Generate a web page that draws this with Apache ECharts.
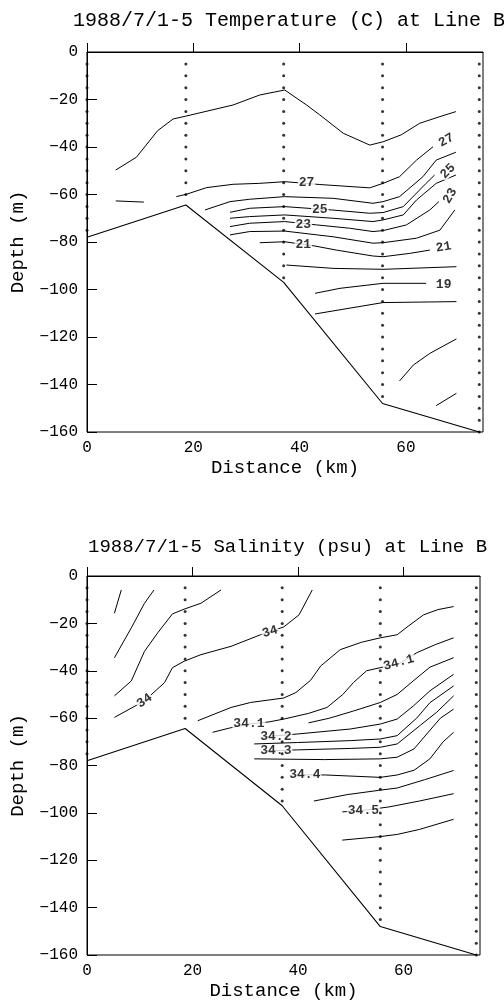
<!DOCTYPE html>
<html><head><meta charset="utf-8">
<script src="https://cdn.jsdelivr.net/npm/echarts@6/dist/echarts.min.js"></script>
<style>html,body{margin:0;padding:0;background:#fff}#c{width:504px;height:1001px}</style>
</head><body><div id="c"></div>
<script>
// ---------- shared section geometry ----------
const stationKm = [0, 18.6, 37.0, 55.6, 73.8];
const stationLastDepth = [75, 60, 95, 145, 160];
const sampleDepths = [5,10,15,20,25,30,35,40,45,50,55,60,65,70,75,80,85,90,95,100,105,110,115,120,125,130,135,140,145,150,155,160];
const bottomTopo = [[0,-78],[18.6,-64.4],[37.0,-97],[55.6,-148],[73.8,-160]];
const xTickLabels = [0, 20, 40, 60];
const yTickLabels = [0, -20, -40, -60, -80, -100, -120, -140, -160];

// ---------- temperature contours (km, m) ----------
const tTop = [[5.4,-49.7],[9.3,-44.3],[13.3,-33.1],[16.2,-28.2],[18.6,-27],[27.5,-22.3],[32.5,-18.1],[37.2,-16],[41.3,-22.3],[43.8,-26.5],[48.2,-34.2],[53.2,-39.2],[55.7,-37.8],[59.1,-34.9],[62.6,-30],[66.4,-27.2],[69.4,-25.1]];
const t27a = [[5.4,-62.7],[10.7,-63.2]];
const t27b = [[16.8,-60.9],[18.7,-59.9],[22.5,-57.1],[27.5,-55.7],[32.5,-55.3],[37.2,-54.6],[43.8,-55.8],[53.2,-57.2],[55.7,-55.3],[58.8,-52.5],[62,-45.5],[65.1,-39.9]];
const t26 = [[22.2,-66.5],[26.9,-63],[30.6,-62],[37.2,-60.9],[46.3,-61.6],[53.8,-63.7],[55.7,-63],[58.8,-60.9],[63.2,-52.5],[65.7,-45.5],[69.4,-42.2]];
const t25 = [[26.9,-67.5],[30.6,-65.8],[37.2,-65.1],[46,-66.5],[53.2,-67.9],[55.7,-67.6],[59.5,-65.1],[63.8,-55.3],[65.4,-51.8]];
const t24 = [[26.9,-70],[30.6,-69.3],[37.2,-68.6],[46.3,-70],[53.8,-71.4],[55.7,-70.7],[59.5,-68.6],[62,-62.3],[65.7,-55.3],[69.4,-51.8]];
const t23 = [[26.9,-73.5],[30.6,-72.1],[37.2,-71.4],[43.2,-72.8],[49.4,-74.2],[53.8,-75.6],[55.7,-75.2],[60.1,-72.8],[64.5,-66.5],[66.2,-63]];
const t22 = [[26.9,-77],[30.6,-75.6],[37.2,-75.4],[46.3,-77.8],[53.8,-80.5],[55.7,-80.3],[62,-78.4],[66.4,-75],[69.2,-66.5]];
const t21 = [[32.5,-80.3],[37.2,-79.9],[42.9,-81.7],[46.9,-83.4],[53.8,-85.9],[55.7,-86.2],[60.7,-84.8],[64.5,-83.4]];
const t20 = [[37.5,-89.7],[46.3,-91.1],[55.7,-91.5],[69.5,-90.4]];
const t19 = [[42.9,-101.6],[47.6,-99.5],[55.7,-97.4],[63.8,-97.4]];
const t18 = [[42.9,-110.3],[55.7,-105.5],[69.5,-105.1]];
const tDeepA = [[58.8,-138.5],[61.4,-131.8],[64.5,-126.9],[69.5,-120.8]];
const tDeepB = [[65.7,-148.9],[69.5,-143.7]];
// label: [km, depth, text, angle]
const tLabels = [[41.3,-55.2,'27',0],[67.6,-37.2,'27',30],[43.8,-66.5,'25',0],[67.9,-50.2,'25',45],
                 [40.7,-72.6,'23',0],[68.3,-60.6,'23',60],[40.7,-81.2,'21',0],[67.1,-82.2,'21',10],[67.1,-98.0,'19',0]];

// ---------- salinity contours (km, m) ----------
const sA = [[5.2,-15.7],[6.5,-5.9]];
const sB = [[5.2,-34.5],[8.4,-21.9],[10.9,-11.5],[12.7,-5.9]];
const sC = [[5.2,-50.6],[8.4,-44.3],[10.9,-31.8],[13.4,-24],[16.2,-16],[18.4,-14],[21.6,-11.5],[25.4,-5.9]];
const s340 = [[5.2,-59.7],[10.9,-52.7],[14.7,-45],[16.2,-38.7],[18.4,-36],[21.6,-33.2],[27.3,-29.7],[32.9,-24.8],[34.8,-23.4],[37.3,-21.5],[40.2,-16.4],[42.7,-5.9]];
const s3405 = [[21,-61.1],[27.3,-55.5],[31,-53.4],[37.3,-51.5],[39.6,-49.2],[42.4,-44],[44.3,-38],[48,-31.1],[52,-28],[55.6,-26.1],[58.8,-24.8],[61,-21],[63.8,-16.4],[66.5,-14.2],[69.5,-12.9]];
const s341 = [[23.8,-66],[27,-64.2],[30.7,-62.5],[34.5,-61.6],[37.3,-60.4],[42,-58],[45.5,-55.5],[48.5,-50],[50.5,-45],[53,-40],[55.6,-38.7],[59.2,-37],[62.5,-32.4],[66,-29],[69.5,-26.1]];
const s3415 = [[42,-62],[46,-60],[50.5,-57],[55.6,-53.4],[58.8,-50],[62,-44],[65,-38.5],[69.5,-34.5]];
const s342 = [[33.5,-67.9],[39.9,-66.7],[49.9,-64.6],[55.6,-62.5],[58.8,-60.4],[61.9,-54.8],[65,-48.5],[69.5,-41.5]];
const s3425 = [[31.7,-70.9],[39.9,-70.3],[49.9,-69.5],[55.6,-68.8],[58.8,-67.4],[62.5,-60],[65,-53.5],[69.5,-46.4]];
const s343 = [[33.5,-73.8],[39.9,-73.4],[49.9,-72.8],[55.6,-72.3],[58.8,-70.9],[63.2,-63],[66.3,-57.5],[69.5,-50.6]];
const s3435 = [[31.7,-77.2],[45,-77.5],[55.6,-77.2],[58.8,-76.5],[62,-73],[64.4,-66.7],[67,-60],[69.5,-56.2]];
const s344 = [[39,-83.9],[45.2,-84],[55.6,-85],[58.8,-84],[62,-82],[65,-77.2],[67.5,-70],[69.5,-66]];
const s3445 = [[43,-95],[49.3,-92.3],[55.3,-90.5],[58.8,-89.5],[64,-86],[69.5,-82.1]];
const s345 = [[48.4,-99.6],[52.5,-98.9],[57.2,-97.5],[63,-95],[69.5,-91.9]];
const s3455 = [[48.4,-111.5],[55.6,-110],[58.8,-109.1],[63,-107],[69.5,-102.7]];
const sLabels = [[10.9,-52.7,'34',35],[34.7,-23.6,'34',17],[30.7,-62.5,'34.1',0],[59.1,-36.6,'34.1',15],
                 [35.8,-67.7,'34.2',0],[35.8,-73.7,'34.3',0],[41.3,-83.9,'34.4',0],[52.4,-98.9,'34.5',0]];

const tempLines = [tTop,t27a,t27b,t26,t25,t24,t23,t22,t21,t20,t19,t18,tDeepA,tDeepB];
const salLines = [sA,sB,sC,s340,s3405,s341,s3415,s342,s3425,s343,s3435,s344,s3445,s345,s3455];

const FONT = 'Liberation Mono';
function contour(data, g){
  return {type:'line', xAxisIndex:g, yAxisIndex:g, data:data, symbol:'none', smooth:false,
    lineStyle:{color:'#000', width:1}, silent:true, animation:false, z:2};
}
function labels(arr, g){
  return {type:'scatter', xAxisIndex:g, yAxisIndex:g, symbol:'circle', symbolSize:1,
    itemStyle:{color:'rgba(0,0,0,0)'}, silent:true, animation:false, z:5,
    data: arr.map(l => ({value:[l[0], l[1]], name:l[2], label:{rotate:l[3]}})),
    label:{show:true, position:'inside', formatter: p => p.name, fontFamily:FONT, fontSize:13, fontWeight:'bold', color:'#000',
      backgroundColor:'#fff', padding:[0,1], lineHeight:11}};
}
function stations(g){
  const pts = [];
  stationKm.forEach((x,i) => sampleDepths.forEach(d => { if (d <= stationLastDepth[i]) pts.push([x, -d]); }));
  return {type:'scatter', xAxisIndex:g, yAxisIndex:g, data:pts, symbol:'circle', symbolSize:3,
    itemStyle:{color:'#000'}, silent:true, animation:false, z:8};
}
function topo(g){
  return {type:'line', xAxisIndex:g, yAxisIndex:g, data:bottomTopo, symbol:'none',
    lineStyle:{color:'#000', width:1.1}, silent:true, animation:false, z:3};
}
function xAx(g){
  return {type:'value', gridIndex:g, min:0, max:74.5, interval:20,
    axisLine:{show:true, lineStyle:{color:'#000', width:1}},
    axisTick:{show:true, inside:true, length:9, lineStyle:{color:'#000'}},
    axisLabel:{margin:8, fontFamily:FONT, fontSize:16, color:'#000', showMaxLabel:false,
      formatter: v => xTickLabels.includes(v) ? String(v) : ''},
    splitLine:{show:false},
    name:'Distance (km)', nameLocation:'middle', nameGap:26,
    nameTextStyle:{fontFamily:FONT, fontSize:19, color:'#000'}};
}
function yAx(g){
  return {type:'value', gridIndex:g, min:-160, max:0, interval:20,
    axisLine:{show:true, lineStyle:{color:'#000', width:1}},
    axisTick:{show:true, inside:true, length:10, lineStyle:{color:'#000'}},
    axisLabel:{margin:9, fontFamily:FONT, fontSize:16, color:'#000',
      formatter: v => yTickLabels.includes(v) ? String(v).replace('-', '\u2212') : ''},
    splitLine:{show:false},
    name:'Depth (m)', nameLocation:'middle', nameGap:60, nameRotate:90,
    nameTextStyle:{fontFamily:FONT, fontSize:19, color:'#000'}};
}

const series = [];
tempLines.forEach(l => series.push(contour(l, 0)));
series.push(topo(0), stations(0), labels(tLabels, 0));
salLines.forEach(l => series.push(contour(l, 1)));
series.push(topo(1), stations(1), labels(sLabels, 1));

const chart = echarts.init(document.getElementById('c'), null, {renderer:'canvas'});
chart.setOption({
  animation:false,
  backgroundColor:'#fff',
  title:[
    {text:'1988/7/1-5 Temperature (C) at Line B', left:68, top:6, textStyle:{fontFamily:FONT, fontSize:20, fontWeight:'normal', color:'#000'}},
    {text:'1988/7/1-5 Salinity (psu) at Line B', left:83, top:532, textStyle:{fontFamily:FONT, fontSize:19, fontWeight:'normal', color:'#000'}}
  ],
  grid:[
    {left:87, top:52, width:396, height:380, show:true, borderColor:'#000', borderWidth:1, backgroundColor:'transparent'},
    {left:86, top:576, width:394, height:381, show:true, borderColor:'#000', borderWidth:1, backgroundColor:'transparent'}
  ],
  xAxis:[xAx(0), xAx(1)],
  yAxis:[yAx(0), yAx(1)],
  series: series
});
</script></body></html>
